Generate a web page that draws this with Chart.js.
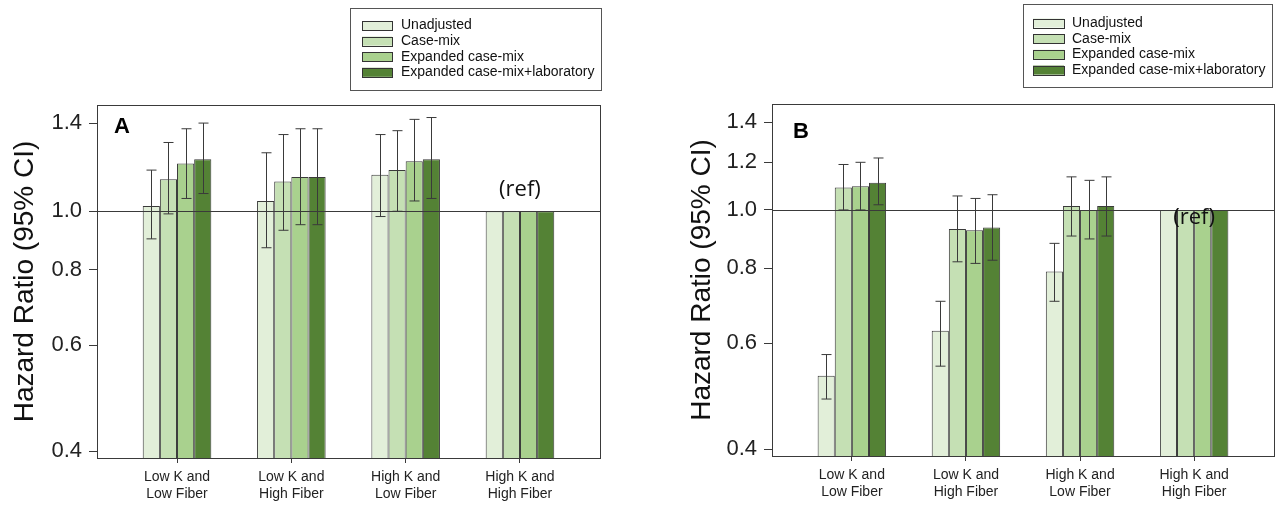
<!DOCTYPE html>
<html>
<head>
<meta charset="utf-8">
<title>Hazard ratios by potassium and fiber intake</title>
<script src="https://cdn.jsdelivr.net/npm/chart.js@4.4.1/dist/chart.umd.min.js"></script>
<style>
  body { margin: 0; background: #fff; }
  #wrap { position: relative; width: 1275px; height: 505px; }
  canvas { position: absolute; top: 0; }
  #chartA { left: 0; }
  #chartB { left: 640px; }
</style>
</head>
<body>
<div id="wrap">
  <canvas id="chartA" width="640" height="505"></canvas>
  <canvas id="chartB" width="635" height="505"></canvas>
</div>
<script>
// categories and series
var categories = [
    ['Low K and', 'Low Fiber'],
    ['Low K and', 'High Fiber'],
    ['High K and', 'Low Fiber'],
    ['High K and', 'High Fiber']
];
var seriesNames = ['Unadjusted', 'Case-mix', 'Expanded case-mix', 'Expanded case-mix+laboratory'];
var seriesColors = ['#e2efd9', '#c5e0b4', '#a9d18e', '#548235'];

// panel A: hazard ratio, lower and upper 95% CI (reference group has no CI)
var hrA_unadjusted = [1.02, 1.04, 1.15, 1.00];
var loA_unadjusted = [0.90, 0.87, 0.98, null];
var hiA_unadjusted = [1.17, 1.25, 1.34, null];
var hrA_casemix = [1.13, 1.12, 1.17, 1.00];
var loA_casemix = [0.99, 0.93, 1.00, null];
var hiA_casemix = [1.30, 1.34, 1.36, null];
var hrA_expanded = [1.20, 1.14, 1.21, 1.00];
var loA_expanded = [1.05, 0.95, 1.04, null];
var hiA_expanded = [1.37, 1.37, 1.42, null];
var hrA_lab = [1.22, 1.14, 1.22, 1.00];
var loA_lab = [1.07, 0.95, 1.05, null];
var hiA_lab = [1.40, 1.37, 1.43, null];

// panel B
var hrB_unadjusted = [0.53, 0.63, 0.79, 1.00];
var loB_unadjusted = [0.485, 0.55, 0.705, null];
var hiB_unadjusted = [0.575, 0.705, 0.88, null];
var hrB_casemix = [1.09, 0.93, 1.015, 1.00];
var loB_casemix = [1.00, 0.82, 0.905, null];
var hiB_casemix = [1.19, 1.055, 1.135, null];
var hrB_expanded = [1.095, 0.925, 1.00, 1.00];
var loB_expanded = [1.00, 0.815, 0.895, null];
var hiB_expanded = [1.20, 1.045, 1.12, null];
var hrB_lab = [1.11, 0.935, 1.015, 1.00];
var loB_lab = [1.02, 0.825, 0.905, null];
var hiB_lab = [1.22, 1.06, 1.135, null];

var yTicksA = [0.4, 0.6, 0.8, 1.0, 1.4];
var yTicksB = [0.4, 0.6, 0.8, 1.0, 1.2, 1.4];

var FONT = '"Liberation Sans", Arial, sans-serif';
var LINE = '#3a3a3a';

function makeDatasets(hr, lo, hi) {
    return hr.map(function(values, s) {
        return {
            label: seriesNames[s],
            data: values.map(function(v, i) { return { x: i, y: v }; }),
            lower: lo[s],
            upper: hi[s],
            backgroundColor: seriesColors[s],
            borderColor: LINE,
            borderWidth: 1,
            categoryPercentage: 0.6,
            barPercentage: 1.0
        };
    });
}

// reference line, error bars, frame, legend and labels
var extrasPlugin = {
    id: 'hrExtras',
    afterDatasetsDraw: function(chart, args, opts) {
        var ctx = chart.ctx;
        var area = chart.chartArea;
        var y = chart.scales.y;
        ctx.save();
        ctx.strokeStyle = LINE;
        ctx.lineWidth = 1.2;
        var y1 = Math.round(y.getPixelForValue(1.0)) + 0.5;
        ctx.beginPath();
        ctx.moveTo(area.left, y1);
        ctx.lineTo(area.right, y1);
        ctx.stroke();

        ctx.lineWidth = 1;
        chart.data.datasets.forEach(function(ds, di) {
            var meta = chart.getDatasetMeta(di);
            meta.data.forEach(function(bar, i) {
                if (ds.lower[i] == null) return;
                var x = Math.round(bar.x) + 0.5;
                var yl = y.getPixelForValue(ds.lower[i]);
                var yh = y.getPixelForValue(ds.upper[i]);
                ctx.beginPath();
                ctx.moveTo(x, yl); ctx.lineTo(x, yh);
                ctx.moveTo(x - 5, yl); ctx.lineTo(x + 5, yl);
                ctx.moveTo(x - 5, yh); ctx.lineTo(x + 5, yh);
                ctx.stroke();
            });
        });
        ctx.restore();
    },
    afterDraw: function(chart, args, opts) {
        var ctx = chart.ctx;
        var area = chart.chartArea;
        ctx.save();
        // frame
        ctx.strokeStyle = LINE;
        ctx.lineWidth = 1;
        ctx.strokeRect(Math.round(area.left) + 0.5, Math.round(area.top) + 0.5,
            Math.round(area.right - area.left), Math.round(area.bottom - area.top));

        // panel letter
        ctx.fillStyle = '#000';
        ctx.font = 'bold 22px ' + FONT;
        ctx.textBaseline = 'middle';
        ctx.textAlign = 'left';
        ctx.fillText(opts.letter, opts.letterX, opts.letterY);

        // (ref) label
        ctx.font = '22px "Open Sans", sans-serif';
        ctx.textAlign = 'center';
        ctx.fillStyle = '#111';
        ctx.fillText('(ref)', chart.scales.x.getPixelForValue(3),
            chart.scales.y.getPixelForValue(1.0) + opts.refOffset);

        // legend box
        var L = opts.legend;
        ctx.fillStyle = '#fff';
        ctx.fillRect(L.left, L.top, L.width, L.height);
        ctx.strokeStyle = '#555';
        ctx.strokeRect(L.left + 0.5, L.top + 0.5, L.width, L.height);
        ctx.font = '14px ' + FONT;
        ctx.textAlign = 'left';
        ctx.textBaseline = 'middle';
        seriesNames.forEach(function(name, i) {
            var cy = L.firstRow + i * L.rowGap;
            ctx.fillStyle = seriesColors[i];
            ctx.fillRect(L.swatchX, cy - 4.5, L.swatchW, 9);
            ctx.strokeStyle = '#333';
            ctx.strokeRect(L.swatchX + 0.5, Math.round(cy - 4.5) + 0.5, L.swatchW, 9);
            ctx.fillStyle = '#111';
            ctx.fillText(name, L.textX, cy);
        });
        ctx.restore();
    }
};

function makeChart(id, datasets, yTicks, axisWidth, xHeight, padding, titlePad, extras) {
    return new Chart(document.getElementById(id), {
        type: 'bar',
        data: { datasets: datasets },
        plugins: [extrasPlugin],
        options: {
            responsive: false,
            animation: false,
            devicePixelRatio: 1,
            layout: { padding: padding },
            plugins: {
                legend: { display: false },
                tooltip: { enabled: false },
                hrExtras: extras
            },
            scales: {
                x: {
                    type: 'linear',
                    min: -0.7,
                    max: 3.7,
                    offset: false,
                    afterBuildTicks: function(s) {
                        s.ticks = categories.map(function(c, i) { return { value: i }; });
                    },
                    afterFit: function(s) { s.height = xHeight; },
                    grid: { drawOnChartArea: false, drawTicks: true, tickLength: 5, offset: false, color: LINE },
                    border: { display: true, color: LINE, width: 1 },
                    ticks: {
                        callback: function(v) { return categories[Math.round(v)]; },
                        font: { family: FONT, size: 14, lineHeight: 1.2 },
                        color: '#222',
                        padding: 6,
                        maxRotation: 0,
                        autoSkip: false
                    }
                },
                y: {
                    type: 'logarithmic',
                    min: 0.39,
                    max: 1.5,
                    beginAtZero: false,
                    afterBuildTicks: function(s) {
                        s.ticks = yTicks.map(function(v) { return { value: v }; });
                    },
                    afterFit: function(s) { s.width = axisWidth; },
                    grid: { drawOnChartArea: false, tickLength: 8, color: LINE },
                    border: { display: true, color: LINE, width: 1 },
                    ticks: {
                        callback: function(v) { return Number(v).toFixed(1); },
                        font: { family: FONT, size: 22 },
                        color: '#222',
                        padding: 7,
                        autoSkip: false
                    },
                    title: {
                        display: true,
                        text: 'Hazard Ratio (95% CI)',
                        font: { family: FONT, size: 28, lineHeight: 1.2 },
                        color: '#111',
                        padding: { top: titlePad, bottom: 0 }
                    }
                }
            }
        }
    });
}

document.addEventListener('DOMContentLoaded', function() {
    var dsA = makeDatasets(
        [hrA_unadjusted, hrA_casemix, hrA_expanded, hrA_lab],
        [loA_unadjusted, loA_casemix, loA_expanded, loA_lab],
        [hiA_unadjusted, hiA_casemix, hiA_expanded, hiA_lab]);
    var dsB = makeDatasets(
        [hrB_unadjusted, hrB_casemix, hrB_expanded, hrB_lab],
        [loB_unadjusted, loB_casemix, loB_expanded, loB_lab],
        [hiB_unadjusted, hiB_casemix, hiB_expanded, hiB_lab]);

    makeChart('chartA', dsA, yTicksA, 97, 47, { left: 0, right: 40, top: 105, bottom: 0 }, 8, {
        letter: 'A', letterX: 114, letterY: 127, refOffset: -22,
        legend: { left: 350, top: 8, width: 251, height: 82, swatchX: 362, swatchW: 30,
                  textX: 401, firstRow: 25.5, rowGap: 15.6 }
    });
    makeChart('chartB', dsB, yTicksB, 132, 49, { left: 0, right: 1, top: 104, bottom: 0 }, 45, {
        letter: 'B', letterX: 153, letterY: 132, refOffset: 8,
        legend: { left: 383, top: 4, width: 249, height: 83, swatchX: 393, swatchW: 31,
                  textX: 432, firstRow: 23, rowGap: 15.7 }
    });
});
</script>
</body>
</html>
